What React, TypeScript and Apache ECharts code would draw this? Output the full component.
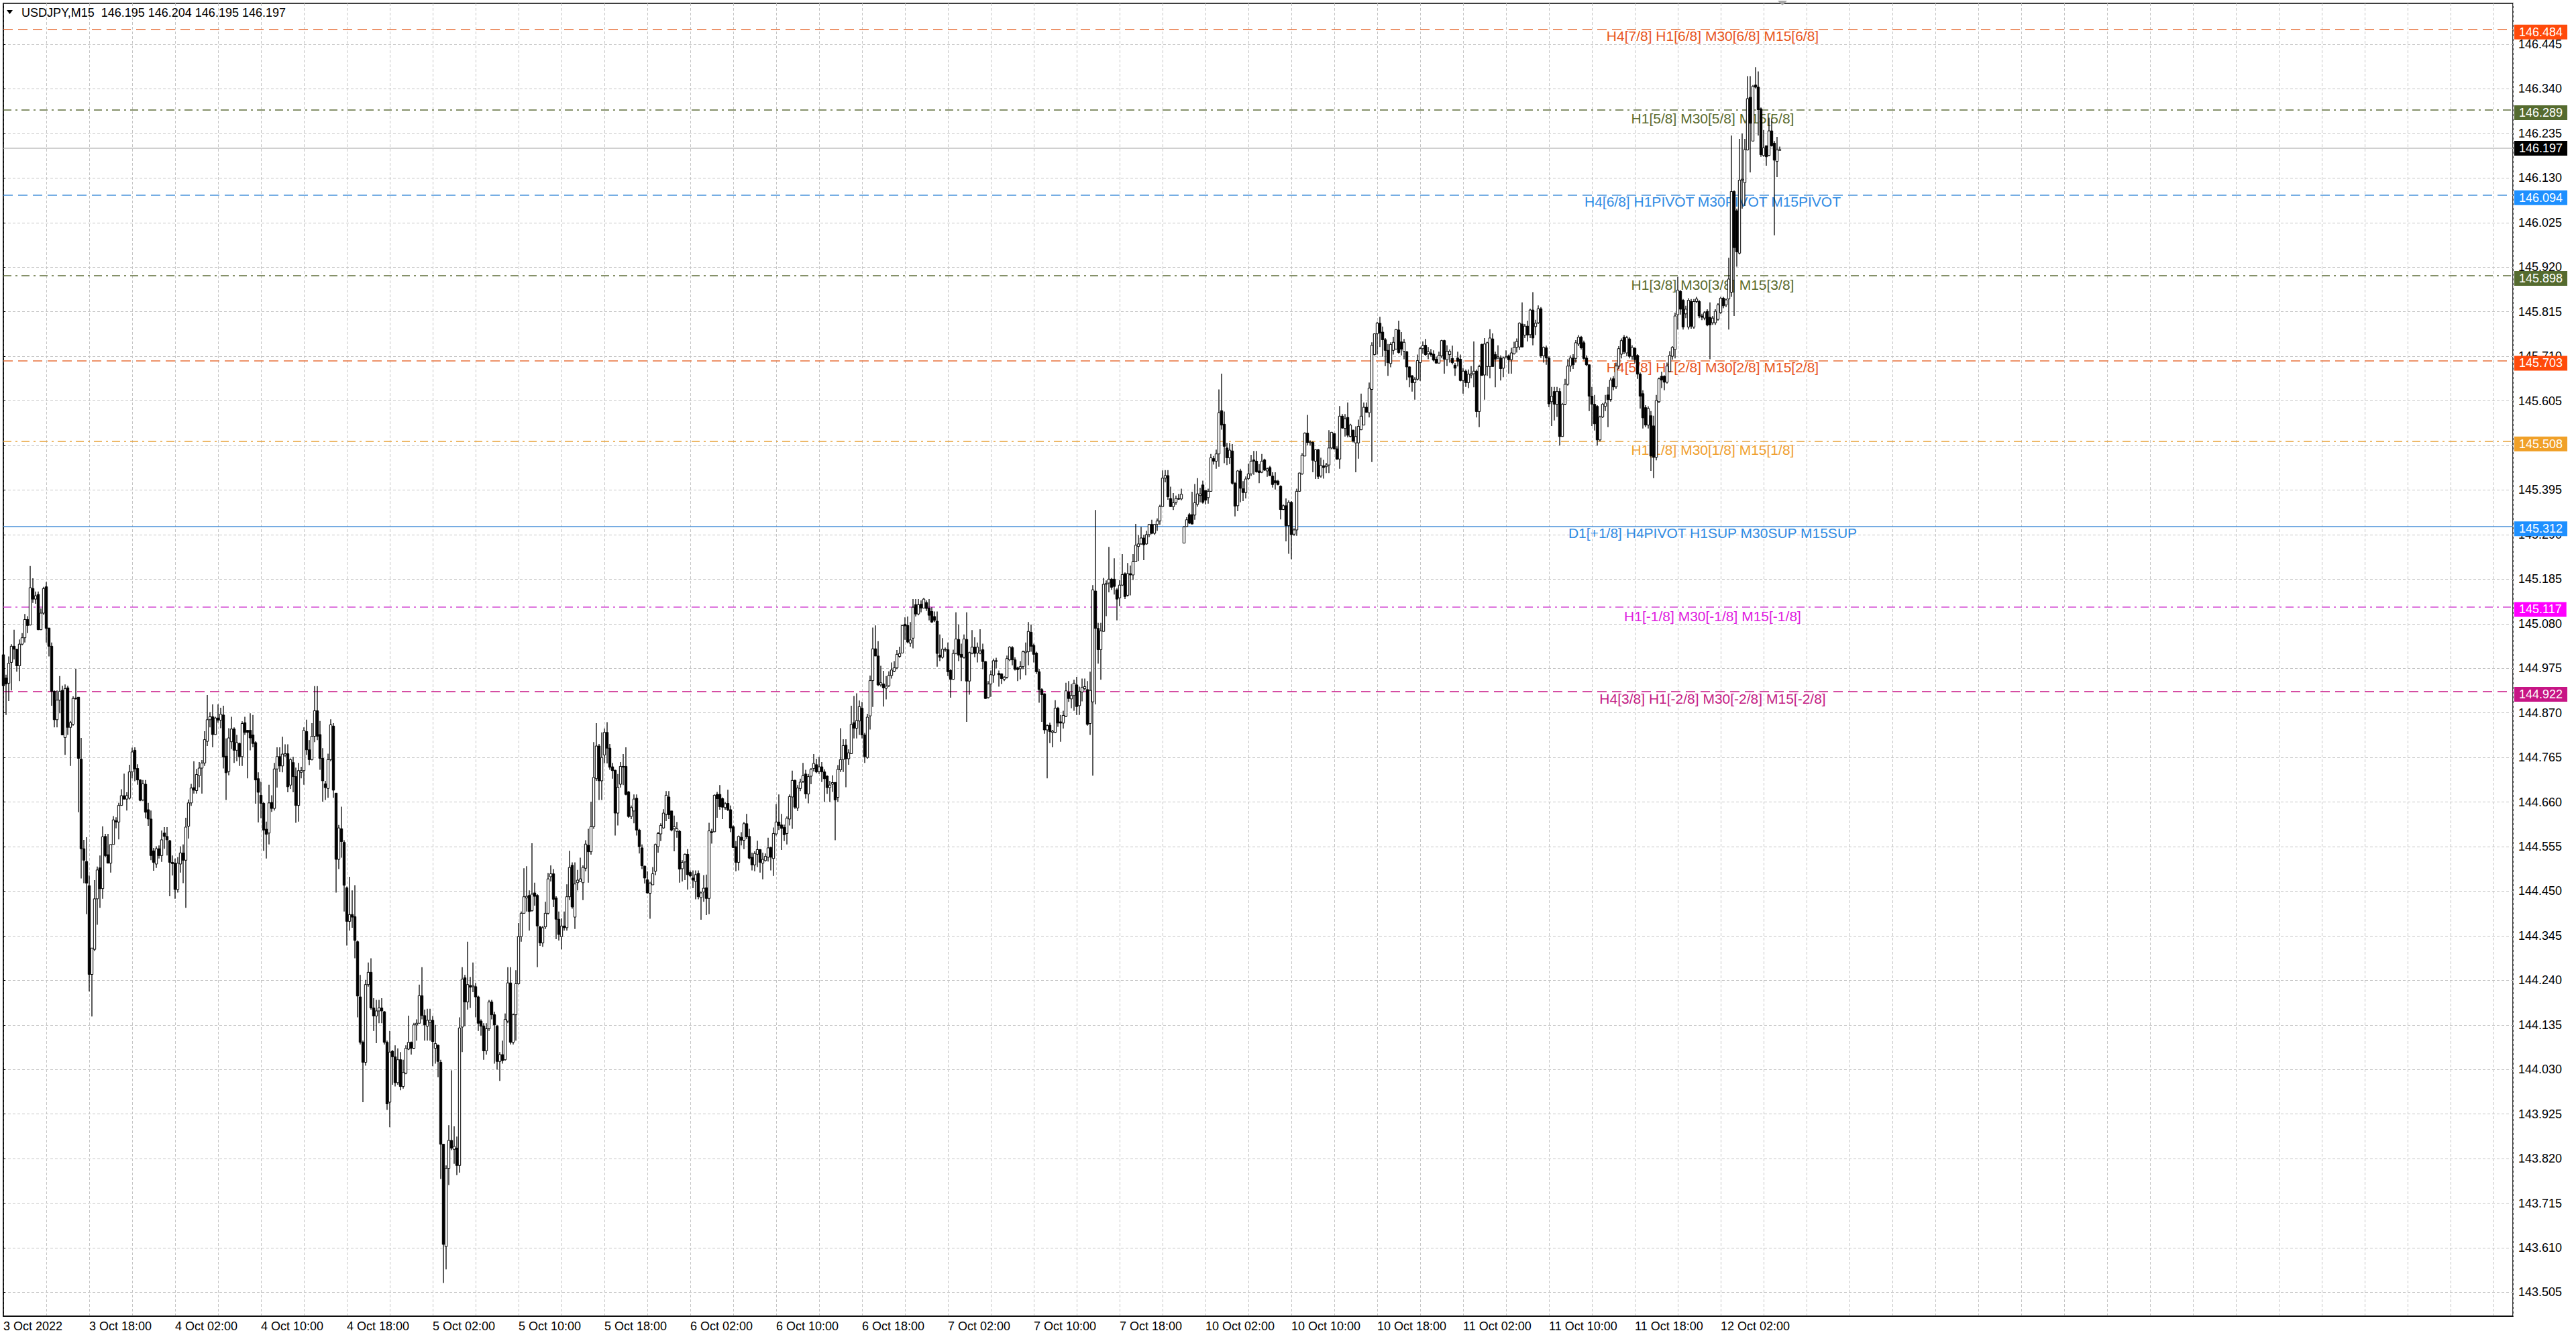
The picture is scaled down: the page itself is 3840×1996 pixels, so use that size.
import { useEffect, useRef } from 'react';
import * as echarts from 'echarts';

// USDJPY M15 candles, 3 Oct 2022 10:00 .. 12 Oct 2022 07:30 (broker time)
// each bar: [open, close, low, high] in points (0.001 JPY) above 143.000
type Bar = [number, number, number, number];

const BASE = 143;
const SYMBOL = 'USDJPY,M15';

const oct3: Bar[] = [
  [2007,1934,1920,2054],[1952,1938,1865,1960],[1940,1987,1898,2003],[1989,2027,1923,2032],[2027,2020,1996,2066],[2020,1981,1967,2021],[1981,2032,1945,2043],[2032,2047,2029,2058],
  [2047,2090,2036,2103],[2090,2076,2058,2098],[2077,2165,2076,2216],[2163,2138,2129,2187],[2138,2146,2127,2156],[2149,2066,2065,2156],[2066,2105,2065,2116],[2105,2163,2101,2167],
  [2167,2069,2036,2178],[2070,2027,2003,2070],[2027,1921,1887,2036],[1921,1854,1836,1923],[1854,1900,1836,1923],[1900,1921,1869,1957],[1923,1818,1818,1934],[1812,1927,1771,1937],
  [1929,1836,1818,1934],[1836,1847,1745,1851],[1843,1904,1840,1909],[1904,1905,1901,1974],[1907,1763,1636,1907],[1761,1550,1480,1811],[1550,1523,1469,1571],[1520,1469,1396,1577],
  [1463,1254,1214,1487],[1254,1316,1155,1316],[1313,1432,1309,1476],[1432,1500,1371,1508],[1505,1456,1411,1534],[1456,1578,1432,1603],[1579,1534,1530,1585],[1536,1516,1516,1585],
  [1516,1560,1494,1560],[1560,1618,1560,1627],[1616,1613,1598,1624],[1613,1652,1572,1658],[1652,1675,1652,1690],[1675,1667,1666,1727],[1667,1675,1640,1683],[1669,1731,1666,1748],
  [1731,1778,1716,1788],[1782,1738,1709,1789],[1739,1712,1701,1749],[1712,1664,1662,1714],[1665,1703,1662,1712],[1702,1636,1622,1712],[1642,1620,1604,1658],[1620,1534,1523,1640],
];

const oct4: Bar[] = [
  [1545,1518,1498,1552],[1514,1550,1505,1556],[1550,1534,1527,1558],[1534,1571,1519,1593],[1587,1579,1550,1601],[1579,1571,1534,1601],[1569,1518,1438,1571],[1518,1515,1487,1534],
  [1516,1454,1432,1527],[1454,1516,1447,1530],[1514,1540,1494,1556],[1540,1523,1469,1560],[1523,1601,1411,1623],[1603,1658,1574,1666],[1658,1693,1651,1703],[1694,1688,1680,1756],
  [1687,1725,1680,1738],[1722,1740,1695,1754],[1740,1752,1680,1759],[1752,1807,1745,1827],[1803,1854,1792,1912],[1854,1861,1836,1872],[1861,1819,1789,1890],[1819,1858,1818,1861],
  [1858,1853,1847,1890],[1853,1867,1834,1882],[1865,1766,1739,1887],[1768,1729,1665,1810],[1732,1811,1723,1834],[1802,1832,1785,1861],[1832,1782,1752,1836],[1782,1800,1756,1818],
  [1798,1767,1745,1800],[1767,1845,1745,1850],[1847,1824,1818,1861],[1829,1824,1716,1829],[1829,1811,1782,1869],[1818,1798,1789,1865],[1800,1712,1656,1803],[1715,1683,1612,1730],
  [1676,1657,1622,1708],[1657,1594,1545,1660],[1596,1584,1527,1614],[1587,1658,1560,1701],[1659,1645,1637,1676],[1645,1738,1640,1752],[1738,1767,1694,1789],[1767,1745,1731,1789],
  [1745,1773,1730,1814],[1771,1774,1767,1796],[1774,1696,1683,1796],[1700,1760,1691,1763],[1753,1720,1683,1767],[1720,1652,1611,1741],[1652,1734,1614,1752],[1730,1734,1716,1743],
  [1734,1829,1701,1836],[1826,1783,1771,1854],[1783,1760,1747,1806],[1760,1815,1758,1846],[1815,1875,1801,1933],[1875,1815,1806,1933],[1819,1763,1736,1851],[1763,1710,1661,1787],
  [1703,1694,1665,1710],[1692,1760,1670,1774],[1760,1842,1756,1855],[1839,1688,1670,1846],[1681,1525,1447,1681],[1525,1599,1502,1606],[1597,1567,1529,1649],[1565,1464,1402,1570],
  [1458,1379,1322,1461],[1379,1395,1357,1484],[1395,1389,1364,1452],[1390,1334,1292,1464],[1331,1203,1153,1334],[1201,1094,1089,1253],[1094,1047,953,1098],[1047,1230,1039,1241],
  [1230,1259,1225,1282],[1259,1175,1171,1292],[1175,1156,1121,1198],[1156,1168,1092,1194],[1168,1175,1139,1194],[1175,1168,1139,1198],[1166,1094,1089,1168],[1094,949,935,1098],
  [953,1071,894,1121],[1073,1060,994,1076],[1060,999,990,1087],[999,1053,994,1080],[1053,990,981,1071],[990,1023,985,1053],[1021,1080,1019,1087],[1078,1094,1076,1157],
];

const oct5: Bar[] = [
  [1094,1080,1065,1096],[1080,1135,1078,1140],[1135,1139,1098,1148],[1139,1204,1139,1230],[1204,1157,1148,1271],[1157,1135,1098,1171],[1132,1146,1098,1173],[1141,1146,1098,1173],
  [1146,1096,1038,1156],[1080,1091,1044,1135],[1087,1049,1012,1089],[1047,854,772,1053],[854,618,527,854],[613,797,559,804],[797,863,758,899],[863,845,840,1028],
  [842,849,808,896],[845,804,781,872],[804,1128,787,1153],[1130,1243,1071,1271],[1246,1189,1132,1253],[1189,1230,1171,1331],[1228,1224,1175,1248],[1225,1228,1212,1282],
  [1225,1201,1153,1234],[1201,1139,1121,1204],[1144,1132,1110,1148],[1132,1074,1053,1139],[1074,1126,1065,1139],[1126,1189,1121,1194],[1189,1159,1148,1194],[1159,1135,1044,1166],
  [1132,1049,1030,1135],[1049,1065,1003,1071],[1065,1051,1044,1098],[1053,1148,1051,1162],[1144,1234,1139,1271],[1234,1094,1089,1271],[1094,1159,1089,1162],[1159,1232,1098,1264],
  [1232,1343,1230,1375],[1343,1398,1331,1402],[1398,1437,1398,1504],[1434,1438,1402,1509],[1440,1402,1357,1452],[1404,1443,1402,1563],[1446,1438,1416,1470],[1440,1368,1271,1443],
  [1366,1328,1321,1368],[1328,1364,1319,1368],[1366,1398,1361,1425],[1398,1479,1395,1493],[1484,1491,1473,1511],[1491,1431,1413,1502],[1434,1384,1337,1438],[1384,1348,1334,1402],
  [1343,1368,1313,1386],[1368,1364,1357,1402],[1364,1437,1357,1466],[1437,1506,1429,1545],[1511,1413,1409,1518],[1389,1467,1361,1518],[1470,1476,1452,1500],[1473,1479,1473,1529],
  [1470,1506,1429,1511],[1504,1561,1497,1570],[1558,1543,1470,1597],[1543,1602,1536,1661],[1602,1718,1597,1801],[1715,1792,1710,1846],[1792,1710,1665,1797],[1710,1765,1665,1824],
  [1771,1824,1751,1833],[1824,1787,1751,1848],[1787,1742,1736,1797],[1743,1734,1715,1752],[1735,1634,1581,1736],[1634,1695,1605,1726],[1702,1744,1694,1754],[1744,1743,1700,1773],
  [1744,1678,1676,1789],[1684,1626,1623,1686],[1626,1647,1620,1652],[1639,1667,1610,1678],[1669,1594,1581,1678],[1594,1555,1539,1597],[1552,1510,1502,1560],[1509,1481,1468,1510],
  [1477,1446,1444,1497],[1445,1469,1385,1472],[1465,1491,1465,1507],[1497,1560,1488,1562],[1555,1586,1541,1590],[1585,1605,1568,1610],[1599,1634,1597,1643],[1631,1676,1615,1686],
];

const oct6: Bar[] = [
  [1672,1630,1620,1686],[1639,1594,1591,1639],[1597,1602,1544,1628],[1591,1597,1576,1613],[1591,1502,1470,1594],[1503,1518,1473,1523],[1519,1537,1476,1539],[1537,1489,1454,1549],
  [1494,1486,1483,1499],[1481,1476,1457,1499],[1473,1489,1431,1499],[1492,1437,1431,1499],[1435,1446,1383,1449],[1448,1457,1425,1488],[1458,1433,1394,1489],[1433,1592,1396,1611],
  [1590,1588,1562,1597],[1590,1676,1589,1678],[1678,1668,1623,1684],[1678,1649,1642,1700],[1668,1648,1620,1671],[1647,1656,1642,1660],[1657,1642,1639,1689],[1642,1599,1589,1652],
  [1602,1553,1552,1605],[1555,1518,1497,1568],[1518,1579,1499,1581],[1577,1570,1558,1589],[1570,1609,1549,1613],[1609,1578,1573,1632],[1579,1528,1525,1597],[1530,1512,1499,1541],
  [1512,1539,1497,1544],[1537,1548,1507,1569],[1548,1518,1494,1549],[1516,1525,1478,1541],[1522,1532,1520,1539],[1530,1552,1520,1576],[1553,1530,1499,1555],[1527,1586,1486,1600],
  [1585,1613,1581,1655],[1613,1605,1594,1678],[1606,1598,1547,1632],[1600,1583,1568,1607],[1586,1622,1560,1626],[1620,1673,1605,1678],[1672,1711,1597,1734],[1711,1648,1644,1713],
  [1646,1693,1639,1700],[1692,1707,1686,1715],[1709,1722,1705,1752],[1726,1679,1668,1736],[1679,1720,1657,1726],[1721,1737,1702,1740],[1739,1751,1732,1773],[1748,1731,1728,1762],
  [1732,1743,1726,1767],[1743,1731,1707,1754],[1731,1715,1660,1737],[1721,1694,1679,1723],[1694,1700,1660,1710],[1702,1706,1684,1723],[1706,1665,1570,1707],[1671,1737,1660,1747],
  [1736,1760,1731,1834],[1760,1793,1731,1808],[1794,1762,1695,1808],[1762,1776,1748,1784],[1774,1843,1773,1887],[1847,1834,1810,1910],[1834,1852,1810,1916],[1851,1885,1818,1899],
  [1881,1818,1810,1896],[1818,1767,1752,1823],[1765,1860,1762,1868],[1863,1946,1831,1958],[1946,2021,1884,2071],[2021,2004,2004,2076],[2004,1936,1933,2039],[1936,1941,1932,1981],
  [1938,1929,1885,1969],[1928,1933,1902,1957],[1934,1958,1931,1968],[1958,1971,1951,1989],[1968,1976,1966,1992],[1976,2008,1973,2018],[2003,2010,2000,2026],[2011,2076,2010,2076],
  [2079,2075,2042,2095],[2076,2037,2034,2097],[2034,2042,2026,2084],[2046,2119,2022,2138],[2125,2103,2097,2138],[2103,2125,2100,2138],[2126,2117,2107,2135],[2117,2138,2116,2141],
];

const oct7: Bar[] = [
  [2130,2116,2110,2135],[2117,2100,2088,2138],[2109,2084,2082,2119],[2097,2088,2084,2109],[2086,2010,1979,2109],[2006,2001,1992,2055],[2001,2020,1998,2046],[2019,2020,2014,2024],
  [2019,1967,1957,2036],[1970,1949,1906,1973],[1949,2010,1948,2019],[2010,2044,2008,2107],[2043,2006,1992,2078],[2008,2001,1945,2033],[2001,2044,1998,2055],[2043,1945,1849,2107],
  [1945,2012,1913,2014],[2011,2025,2008,2065],[2025,2010,2001,2048],[2011,2025,1989,2036],[2011,2016,2008,2067],[2019,1991,1973,2033],[1991,1904,1903,1992],[1906,1938,1904,1945],
  [1938,1960,1908,1970],[1959,1993,1941,1998],[1993,1992,1975,2000],[1963,1960,1932,1970],[1962,1951,1938,1963],[1949,1954,1945,1957],[1954,1998,1951,2005],[1995,2025,1992,2027],
  [2024,1995,1982,2027],[1995,1973,1970,2001],[1976,1972,1945,1979],[1974,1979,1949,1992],[1979,2014,1973,2017],[2012,2015,1959,2036],[2014,2062,1982,2084],[2060,2027,2014,2078],
  [2029,2008,1989,2033],[2011,1967,1962,2014],[1967,1925,1894,1974],[1925,1913,1849,1928],[1915,1830,1821,1916],[1830,1840,1716,1843],[1841,1826,1799,1847],[1824,1827,1789,1830],
  [1824,1881,1822,1900],[1881,1846,1837,1884],[1849,1846,1802,1865],[1846,1864,1833,1875],[1862,1922,1860,1941],[1919,1904,1896,1945],[1903,1911,1881,1938],[1911,1940,1875,1948],
  [1936,1885,1865,1955],[1887,1921,1865,1932],[1919,1930,1897,1951],[1927,1932,1923,1951],[1925,1843,1840,1945],[1845,1923,1818,1967],[1896,2160,1722,2171],[2157,2069,1890,2348],
  [2069,2019,1986,2082],[2019,2063,1948,2082],[2062,2173,2062,2188],[2173,2175,2098,2182],[2176,2185,2154,2261],[2185,2166,2160,2188],[2185,2168,2149,2234],[2160,2138,2088,2164],
  [2141,2171,2122,2183],[2171,2196,2169,2244],[2198,2144,2138,2201],[2147,2198,2144,2223],[2198,2195,2147,2217],[2195,2226,2183,2244],[2226,2265,2226,2315],[2262,2268,2228,2289],
  [2268,2282,2266,2308],[2282,2266,2230,2290],[2268,2290,2266,2299],[2290,2314,2284,2315],[2314,2293,2291,2325],[2293,2314,2290,2315],[2314,2322,2299,2328],[2322,2356,2313,2360],
  [2356,2423,2355,2441],[2423,2429,2413,2442],[2429,2379,2372,2442],[2375,2356,2355,2403],[2356,2365,2348,2388],[2366,2375,2360,2382],[2375,2374,2372,2386],[2374,2385,2371,2398],
];

const oct10: Bar[] = [
  [2270,2308,2270,2310],[2309,2325,2308,2331],[2337,2317,2315,2341],[2337,2315,2314,2391],[2336,2365,2325,2409],[2361,2386,2356,2423],[2382,2386,2366,2400],[2407,2366,2363,2417],
  [2394,2371,2361,2394],[2377,2392,2363,2398],[2392,2471,2391,2480],[2469,2463,2455,2475],[2463,2480,2445,2490],[2480,2577,2450,2632],[2582,2548,2537,2669],[2550,2498,2458,2580],
  [2494,2471,2454,2506],[2471,2489,2456,2506],[2487,2411,2408,2503],[2411,2357,2333,2414],[2358,2440,2345,2442],[2440,2399,2366,2445],[2398,2389,2369,2416],[2389,2421,2375,2427],
  [2422,2433,2419,2457],[2433,2463,2428,2478],[2466,2463,2431,2487],[2463,2438,2436,2487],[2440,2436,2411,2456],[2437,2463,2435,2480],[2466,2442,2440,2469],[2440,2445,2426,2448],
  [2448,2429,2428,2452],[2428,2408,2401,2437],[2417,2412,2396,2437],[2416,2408,2406,2419],[2404,2349,2326,2406],[2349,2358,2348,2361],[2358,2311,2274,2375],[2311,2366,2245,2371],
  [2366,2290,2232,2369],[2291,2301,2287,2305],[2301,2392,2287,2398],[2392,2435,2391,2436],[2433,2477,2431,2482],[2475,2529,2475,2531],[2529,2507,2500,2572],[2507,2508,2500,2512],
  [2507,2465,2437,2510],[2463,2490,2421,2491],[2490,2427,2421,2492],[2428,2453,2424,2471],[2452,2448,2422,2466],[2450,2454,2435,2459],[2454,2494,2435,2536],[2494,2531,2491,2532],
  [2528,2492,2491,2529],[2492,2468,2466,2498],[2468,2569,2445,2593],[2569,2541,2540,2574],[2540,2563,2521,2574],[2566,2524,2519,2601],[2521,2548,2519,2551],[2536,2510,2507,2537],
  [2506,2521,2437,2545],[2506,2545,2469,2561],[2537,2569,2536,2622],[2548,2590,2548,2601],[2590,2578,2577,2601],[2577,2635,2566,2648],[2632,2736,2461,2743],[2714,2763,2712,2764],
  [2763,2788,2714,2791],[2788,2765,2732,2803],[2767,2749,2709,2780],[2749,2724,2687,2753],[2724,2695,2664,2739],[2693,2738,2684,2743],[2724,2743,2714,2756],[2727,2773,2726,2774],
  [2772,2719,2716,2794],[2744,2727,2712,2767],[2722,2743,2703,2751],[2721,2685,2654,2722],[2685,2661,2637,2686],[2664,2648,2627,2666],[2648,2656,2608,2661],[2656,2700,2653,2714],
  [2695,2728,2652,2732],[2728,2735,2716,2745],[2736,2714,2711,2751],[2716,2721,2703,2732],[2718,2714,2709,2727],[2715,2701,2698,2724],[2703,2694,2693,2709],[2694,2712,2693,2721],
];

const oct11: Bar[] = [
  [2711,2747,2706,2749],[2747,2703,2669,2749],[2702,2722,2687,2736],[2714,2722,2695,2726],[2705,2695,2691,2735],[2689,2682,2664,2694],[2706,2698,2686,2721],[2703,2653,2651,2714],
  [2653,2675,2622,2682],[2675,2648,2638,2679],[2648,2668,2635,2679],[2666,2669,2658,2687],[2669,2675,2637,2745],[2675,2580,2566,2679],[2580,2686,2543,2690],[2738,2665,2664,2740],
  [2666,2739,2608,2753],[2686,2742,2664,2744],[2686,2753,2658,2774],[2751,2686,2686,2764],[2714,2703,2637,2721],[2706,2709,2703,2736],[2706,2681,2653,2712],[2682,2706,2661,2709],
  [2706,2709,2706,2724],[2711,2702,2669,2714],[2702,2718,2669,2730],[2716,2731,2714,2744],[2731,2745,2719,2752],[2732,2788,2725,2790],[2786,2732,2731,2837],[2760,2781,2753,2786],
  [2781,2760,2745,2794],[2761,2819,2753,2822],[2819,2753,2736,2861],[2780,2788,2760,2796],[2789,2822,2786,2830],[2822,2711,2706,2826],[2711,2731,2695,2733],[2730,2706,2690,2735],
  [2706,2598,2590,2710],[2603,2616,2546,2638],[2627,2597,2559,2638],[2597,2627,2567,2638],[2627,2521,2500,2635],[2521,2597,2521,2600],[2597,2644,2595,2657],[2644,2687,2641,2703],
  [2687,2706,2674,2712],[2706,2690,2680,2715],[2705,2742,2695,2748],[2739,2755,2734,2760],[2755,2730,2726,2758],[2742,2705,2702,2747],[2706,2690,2687,2712],[2690,2616,2581,2690],
  [2616,2597,2546,2638],[2597,2551,2535,2619],[2592,2513,2500,2595],[2513,2567,2510,2570],[2567,2597,2565,2600],[2592,2600,2581,2619],[2619,2608,2543,2638],[2608,2654,2603,2660],
  [2657,2638,2630,2663],[2638,2687,2633,2695],[2687,2728,2680,2734],[2715,2747,2705,2752],[2755,2721,2715,2760],[2718,2754,2710,2758],[2751,2710,2705,2755],[2710,2731,2702,2736],
  [2729,2702,2694,2731],[2712,2668,2657,2715],[2668,2616,2587,2672],[2622,2565,2540,2630],[2589,2548,2543,2595],[2548,2587,2540,2592],[2570,2475,2440,2581],[2546,2472,2423,2570],
  [2472,2606,2465,2619],[2603,2657,2600,2660],[2663,2654,2635,2674],[2663,2649,2630,2665],[2649,2687,2646,2695],[2674,2712,2674,2722],[2710,2731,2702,2734],[2726,2805,2705,2813],
  [2808,2866,2773,2897],[2863,2821,2808,2866],[2842,2779,2773,2845],[2810,2821,2800,2829],[2779,2842,2773,2847],[2839,2781,2775,2845],[2779,2839,2775,2845],[2839,2845,2835,2850],
];

const oct12: Bar[] = [
  [2839,2805,2800,2842],[2805,2802,2795,2810],[2800,2813,2795,2816],[2816,2784,2781,2821],[2802,2784,2703,2837],[2789,2800,2784,2805],[2789,2816,2784,2821],[2797,2831,2794,2835],
  [2813,2847,2810,2850],[2847,2829,2823,2850],[2831,2843,2826,2846],[2845,2892,2773,2942],[2861,3098,2850,3230],[3098,2966,2805,3101],[3053,2956,2921,3058],[2953,3125,2950,3222],
  [3125,3127,3058,3235],[3119,3197,3064,3222],[3196,3317,3195,3370],[3320,3259,3143,3370],[3217,3346,3217,3349],[3349,3344,3341,3391],[3344,3291,3230,3381],[3293,3185,3180,3296],
  [3183,3201,3180,3243],[3206,3180,3159,3206],[3183,3241,3181,3272],[3241,3206,3204,3270],[3212,3172,2995,3217],[3169,3196,3132,3227],[3195,3197,3195,3204],
];

const bars: Bar[] = [...oct3, ...oct4, ...oct5, ...oct6, ...oct7, ...oct10, ...oct11, ...oct12];

// one label every 32 bars (8 hours), first one on bar 0
const timeLabels = [
  '3 Oct 2022', '3 Oct 18:00', '4 Oct 02:00', '4 Oct 10:00', '4 Oct 18:00', '5 Oct 02:00', '5 Oct 10:00',
  '5 Oct 18:00', '6 Oct 02:00', '6 Oct 10:00', '6 Oct 18:00', '7 Oct 02:00', '7 Oct 10:00', '7 Oct 18:00',
  '10 Oct 02:00', '10 Oct 10:00', '10 Oct 18:00', '11 Oct 02:00', '11 Oct 10:00', '11 Oct 18:00', '12 Oct 02:00',
];
const LABEL_EVERY = 32;

const priceTicks = [
  146.445, 146.34, 146.235, 146.13, 146.025, 145.92, 145.815, 145.71, 145.605, 145.5,
  145.395, 145.29, 145.185, 145.08, 144.975, 144.87, 144.765, 144.66, 144.555, 144.45,
  144.345, 144.24, 144.135, 144.03, 143.925, 143.82, 143.715, 143.61, 143.505,
];

const levelPrices = [146.484, 146.289, 146.094, 145.898, 145.703, 145.508, 145.312, 145.117, 144.922];
const levelTexts = [
  'H4[7/8] H1[6/8] M30[6/8] M15[6/8]',
  'H1[5/8] M30[5/8] M15[5/8]',
  'H4[6/8] H1PIVOT M30PIVOT M15PIVOT',
  'H1[3/8] M30[3/8] M15[3/8]',
  'H4[5/8] H1[2/8] M30[2/8] M15[2/8]',
  'H1[1/8] M30[1/8] M15[1/8]',
  'D1[+1/8] H4PIVOT H1SUP M30SUP M15SUP',
  'H1[-1/8] M30[-1/8] M15[-1/8]',
  'H4[3/8] H1[-2/8] M30[-2/8] M15[-2/8]',
];
const bidPrice = 146.197;

const FONT = '"Liberation Sans", Arial, sans-serif';
const GRID_GRAY = '#c4c4c4';
const DASH = [14, 8];
const DASH_DOT = [12, 6, 3, 6];

const levelStyles = [
  { text: '#e8561c', line: '#e8703a', tag: '#ff4a0a', dash: DASH },
  { text: '#5b6b2e', line: '#5f6e3a', tag: '#556b2f', dash: DASH_DOT },
  { text: '#2f8be4', line: '#4a94dc', tag: '#1e90ff', dash: DASH },
  { text: '#5b6b2e', line: '#5f6e3a', tag: '#556b2f', dash: DASH_DOT },
  { text: '#e8561c', line: '#e8703a', tag: '#ff4a0a', dash: DASH },
  { text: '#f0a030', line: '#e8a23a', tag: '#f0a028', dash: DASH_DOT },
  { text: '#2f8be4', line: '#4a90d9', tag: '#1e90ff', dash: 'solid' },
  { text: '#e020e0', line: '#d24ad2', tag: '#ff00ff', dash: DASH_DOT },
  { text: '#c41d84', line: '#c71585', tag: '#c71585', dash: DASH },
];

const TEXT_BAR = 637; // bar the level captions are centred on
const X_MAX = 935.25; // visible bar slots (4 px each)
const Y_MIN = 143.4489;
const Y_MAX = 146.5414;

const toPrice = (p: number) => BASE + p / 1000;

const renderCandle = (_params: any, api: any) => {
  const i = api.value(0);
  const o = api.value(1);
  const c = api.value(2);
  const l = api.value(3);
  const h = api.value(4);
  const top = api.coord([i, Math.max(h, o, c)]);
  const bottom = api.coord([i, Math.min(l, o, c)]);
  const pOpen = api.coord([i, o]);
  const pClose = api.coord([i, c]);
  const x = top[0];
  const bodyTop = Math.min(pOpen[1], pClose[1]);
  const bodyH = Math.max(Math.abs(pOpen[1] - pClose[1]), 1);
  return {
    type: 'group',
    children: [
      { type: 'line', shape: { x1: x, y1: top[1], x2: x, y2: bottom[1] }, style: { stroke: '#000', lineWidth: 1.3 } },
      {
        type: 'rect',
        shape: { x: x - 1.7, y: bodyTop, width: 3.4, height: bodyH },
        style: { fill: c >= o ? '#fff' : '#000', stroke: '#000', lineWidth: 1 },
      },
    ],
  };
};

const App = () => {
  const chartRef = useRef<HTMLDivElement>(null);

  useEffect(() => {
    if (!chartRef.current) return;
    document.body.style.margin = '0';
    const chart = echarts.init(chartRef.current, undefined, { renderer: 'svg' });

    const data = bars.map((b, i) => [i, toPrice(b[0]), toPrice(b[1]), toPrice(b[2]), toPrice(b[3])]);
    const last = bars[bars.length - 1];
    const fmt = (p: number) => toPrice(p).toFixed(3);
    const titleText = `${SYMBOL}  ${fmt(last[0])} ${fmt(last[3])} ${fmt(last[2])} ${fmt(last[1])}`;

    const tagLabel = (price: number, bg: string, dy: number) => ({
      show: true,
      position: 'end',
      distance: 2,
      offset: [0, dy],
      formatter: price.toFixed(3),
      color: '#fff',
      backgroundColor: bg,
      padding: [2, 7, 2, 7],
      fontSize: 18,
      lineHeight: 18,
      fontFamily: FONT,
    });

    const lineData: any[] = levelPrices.map((p, k) => ({
      yAxis: p,
      lineStyle: { color: levelStyles[k].line, type: levelStyles[k].dash, width: 1.5 },
      label: tagLabel(p, levelStyles[k].tag, 4),
    }));
    lineData.push({
      yAxis: bidPrice,
      lineStyle: { color: '#c0c0c0', type: 'solid', width: 1.5 },
      label: tagLabel(bidPrice, '#000', 0),
    });

    const captionData = levelPrices.map((p, k) => ({
      coord: [TEXT_BAR, p],
      symbol: 'circle',
      symbolSize: 1,
      itemStyle: { color: 'rgba(0,0,0,0)' },
      label: {
        show: true,
        position: 'bottom',
        distance: 1,
        formatter: levelTexts[k],
        color: levelStyles[k].text,
        fontSize: 21,
        fontFamily: FONT,
      },
    }));

    const option: any = {
      animation: false,
      backgroundColor: '#fff',
      title: {
        text: titleText,
        left: 32,
        top: 10,
        padding: 0,
        textStyle: { fontSize: 18, fontWeight: 'normal', fontFamily: FONT, color: '#000' },
      },
      grid: {
        left: 5, top: 5, right: 94, bottom: 34,
        show: true, borderColor: '#000', borderWidth: 1.5, backgroundColor: '#fff',
      },
      xAxis: {
        type: 'value',
        min: 0,
        max: X_MAX,
        interval: 16,
        axisLine: { show: true, lineStyle: { color: '#000', width: 1.5 } },
        axisTick: { show: false },
        splitLine: { show: true, lineStyle: { color: GRID_GRAY, type: [4, 3], width: 1 } },
        axisLabel: {
          show: true,
          align: 'left',
          margin: 6,
          fontSize: 18,
          fontFamily: FONT,
          color: '#000',
          showMaxLabel: false,
          formatter: (v: number) => {
            const k = Math.round(v) / LABEL_EVERY;
            return Number.isInteger(k) && k < timeLabels.length ? timeLabels[k] : '';
          },
        },
      },
      yAxis: {
        type: 'value',
        position: 'right',
        min: Y_MIN,
        max: Y_MAX,
        axisLine: { show: true, lineStyle: { color: '#000', width: 1.5 } },
        axisTick: { show: true, length: 3, customValues: priceTicks, lineStyle: { color: '#000' } },
        splitLine: { show: true, lineStyle: { color: GRID_GRAY, type: [4, 3], width: 1 } },
        axisLabel: {
          customValues: priceTicks,
          margin: 8,
          fontSize: 18,
          fontFamily: FONT,
          color: '#000',
          formatter: (v: number) => v.toFixed(3),
        },
      },
      series: [
        {
          type: 'custom',
          name: SYMBOL,
          renderItem: renderCandle,
          data,
          encode: { x: 0, y: [1, 2, 3, 4] },
          clip: false,
          z: 3,
          markLine: { silent: true, symbol: ['none', 'none'], z: 1, animation: false, data: lineData },
          markPoint: { silent: true, z: 1, animation: false, data: captionData },
        },
      ],
      graphic: [
        { type: 'polygon', shape: { points: [[10, 15], [19, 15], [14.5, 21]] }, style: { fill: '#000' } },
        { type: 'polygon', shape: { points: [[2650, 1], [2664, 1], [2657, 8]] }, style: { fill: '#a8a8a8' } },
      ],
    };

    chart.setOption(option);
    return () => {
      chart.dispose();
    };
  }, []);

  return (
    <div
      ref={chartRef}
      style={{ position: 'absolute', left: 0, top: 0, width: '3840px', height: '1996px' }}
    />
  );
};

export default App;
